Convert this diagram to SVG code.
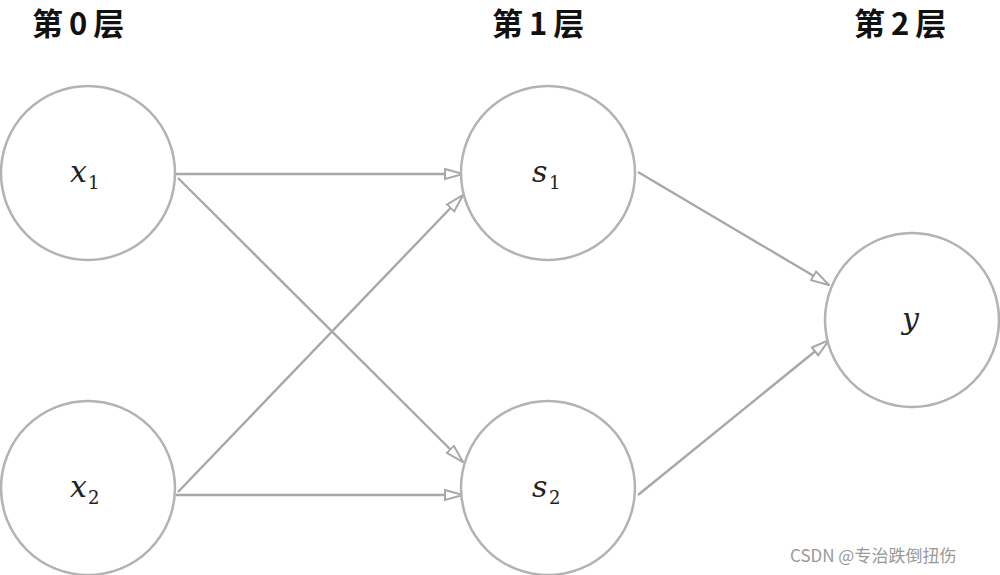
<svg xmlns="http://www.w3.org/2000/svg" width="1000" height="575" viewBox="0 0 1000 575">
<style>
.n{fill:#fff;stroke:#b3b3b3;stroke-width:2.5}
.e{stroke:#a8a8a8;stroke-width:2.4;fill:none;marker-end:url(#a)}
.t{font-family:"Noto Sans CJK SC",sans-serif;font-size:31px;font-weight:bold;fill:#111;letter-spacing:6px}
.l{font-family:"DejaVu Serif",serif;font-style:italic;font-size:30px;fill:#222}
.s{font-family:"DejaVu Serif",serif;font-size:18px;fill:#222}
</style>
<defs><marker id="a" viewBox="0 0 20 14" refX="19" refY="7" markerWidth="20" markerHeight="14" markerUnits="userSpaceOnUse" orient="auto"><path d="M1,2 L19,7 L1,12 Z" fill="#fff" stroke="#a8a8a8" stroke-width="2"/></marker></defs>
<text class="t" x="32" y="35">第0层</text>
<text class="t" x="492" y="35">第1层</text>
<text class="t" x="854" y="35">第2层</text>
<g id="edges">
<line class="e" x1="176" y1="174" x2="463" y2="174"/>
<line class="e" x1="178" y1="178" x2="463" y2="462"/>
<line class="e" x1="178" y1="492" x2="463" y2="195"/>
<line class="e" x1="176" y1="495" x2="463" y2="495"/>
<line class="e" x1="638" y1="172" x2="829" y2="285"/>
<line class="e" x1="638" y1="495" x2="829" y2="340"/>
</g>
<g id="x1"><circle class="n" cx="88" cy="173" r="87"/><text class="l" x="70" y="182">x</text><text class="s" x="88" y="189">1</text></g>
<g id="x2"><circle class="n" cx="88" cy="488" r="87"/><text class="l" x="70" y="497">x</text><text class="s" x="88" y="504">2</text></g>
<g id="s1"><circle class="n" cx="548" cy="173" r="87"/><text class="l" x="532" y="182">s</text><text class="s" x="549" y="189">1</text></g>
<g id="s2"><circle class="n" cx="548" cy="488" r="87"/><text class="l" x="532" y="497">s</text><text class="s" x="549" y="504">2</text></g>
<g id="y"><circle class="n" cx="912" cy="320" r="87"/><text class="l" x="902" y="329">y</text></g>
<text x="790" y="562" style="font-family:'Noto Sans CJK SC',sans-serif;font-size:17px;fill:#999">CSDN @专治跌倒扭伤</text>
</svg>
